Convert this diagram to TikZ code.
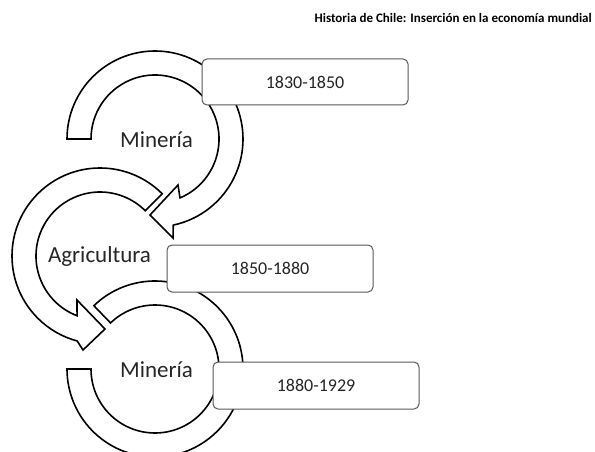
\documentclass[tikz,border=0pt]{standalone}
\usepackage{fontspec}
\setmainfont{Carlito}
\usetikzlibrary{calc}
\definecolor{txt}{HTML}{262626}
\definecolor{boxline}{HTML}{595959}
\begin{document}
\begin{tikzpicture}[x=1pt,y=1pt,
  arrowshape/.style={draw=black, line width=1.6pt, fill=white, line join=miter},
  datebox/.style={draw=boxline, line width=1pt, fill=white, rounded corners=5pt,
    minimum width=206pt, minimum height=46pt, inner sep=0pt,
    font=\fontsize{18}{20}\selectfont, text=txt},
  lbl/.style={font=\fontsize{23}{26}\selectfont, text=txt, anchor=base, inner sep=0pt}]
\useasboundingbox (0,0) rectangle (595,-452);
\coordinate (c1) at (155,-139);
\coordinate (c2) at (100,-256);
\coordinate (c3) at (155,-369);
% arrow 1 (clockwise, Mineria)
\draw[arrowshape] ($(c1)+(180:88)$) arc[start angle=180, end angle=-78, radius=88pt]
  -- (173,-238) -- (150,-215) -- (178,-185) -- ($(c1)+(-67:64)$)
  arc[start angle=-67, end angle=180, radius=64pt] -- cycle;
% arrow 2 (counterclockwise, Agricultura)
\draw[arrowshape] ($(c2)+(45:64)$) -- ($(c2)+(45:88)$)
  arc[start angle=45, end angle=255, radius=88pt]
  -- (83,-350) -- (105,-329) -- (77,-300) -- ($(c2)+(249:64)$)
  arc[start angle=249, end angle=45, radius=64pt] -- cycle;
% arrow 3 (clockwise, Mineria)
\draw[arrowshape] ($(c3)+(134:64)$) -- ($(c3)+(134:88)$)
  arc[start angle=134, end angle=-180, radius=88pt]
  -- ($(c3)+(180:64)$) arc[start angle=-180, end angle=134, radius=64pt] -- cycle;
% labels
\node[lbl] (m1) at (156.5,-147) {Minería};
\node[lbl] (ag) at (99.5,-262) {Agricultura};
\node[lbl] (m2) at (156.5,-377) {Minería};
% boxes
\node[datebox] (b1) at (305,-82) {1830-1850};
\node[datebox, minimum height=47pt] (b2) at (270,-268.5) {1850-1880};
\node[datebox, minimum height=47pt] (b3) at (316,-385.5) {1880-1929};
% title
\node[font=\bfseries\fontsize{13}{15}\selectfont, text=black, anchor=base east, inner sep=0pt] (title) at (592,-23) {Historia de Chile: Inserción en la economía mundial};
\end{tikzpicture}
\end{document}
